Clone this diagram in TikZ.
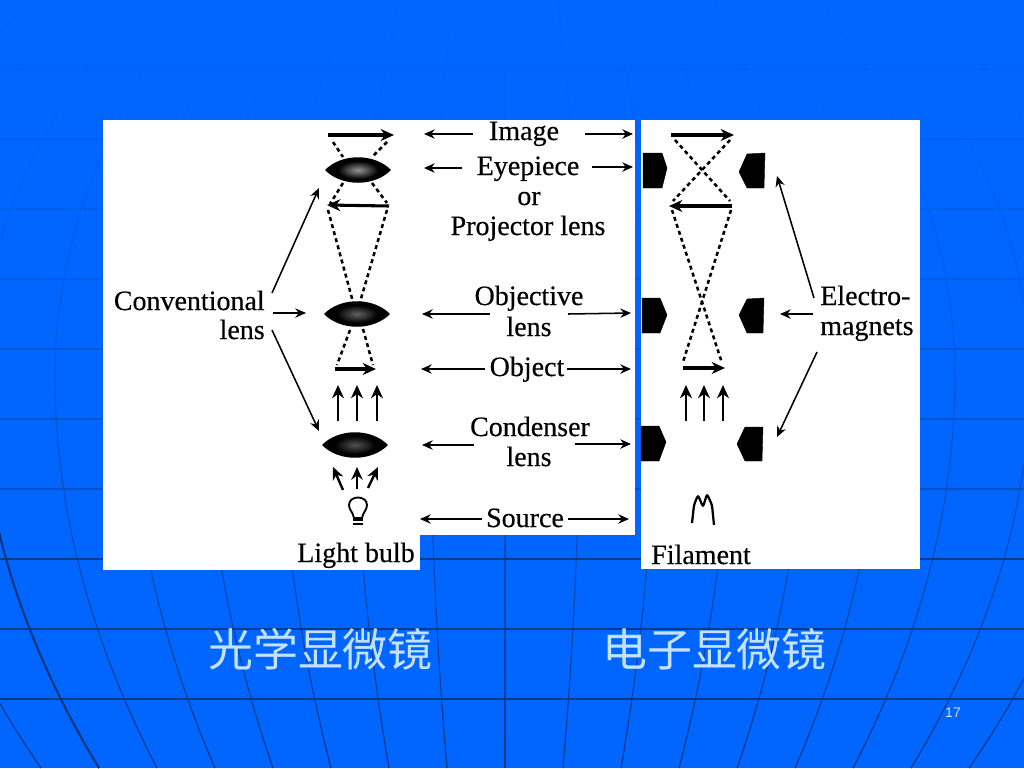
\documentclass[tikz,border=0pt]{standalone}
\usepackage{fontspec}
\setmainfont{Liberation Serif}[FakeBold=0.35]
\newfontfamily\cjkfont{Noto Sans CJK SC}
\newfontfamily\numfont{Liberation Sans}
\usetikzlibrary{arrows.meta}
\definecolor{bgblue}{HTML}{0066FF}
\definecolor{gridnavy}{HTML}{0A3478}
\definecolor{capcol}{HTML}{C4E2FF}
\tikzset{
  x=0.75pt,y=-0.75pt,
  lab/.style={inner sep=0pt,anchor=base,font=\fontsize{21}{21}\selectfont,text=black},
  lbl/.style={-{Stealth[length=8pt,width=7pt]},line width=1.15pt,black},
  rayarrow/.style={-{Stealth[length=10pt,width=9pt]},line width=3pt,black},
  ray2/.style={-{Stealth[length=10pt,width=9pt]},line width=2.3pt,black},
  beam/.style={-{Stealth[length=10pt,width=9pt]},line width=1.3pt,black},
  beamshort/.style={-{Stealth[length=9.5pt,width=8.5pt]},line width=1.8pt,black},
  dashray/.style={line width=1.9pt,black,dash pattern=on 3pt off 2.5pt},
  pole/.style={fill=black,draw=black,line width=.3pt},
  panel/.style={fill=white,draw=none},
}
\newcommand{\lensat}[4]{% cx cy halfw midcolour
  \fill[black] (#1-#3,#2) .. controls (#1-#3*.5,#2-17) and (#1+#3*.5,#2-17) .. (#1+#3,#2)
     .. controls (#1+#3*.5,#2+17) and (#1-#3*.5,#2+17) .. (#1-#3,#2) -- cycle;
  \shade[inner color=#4,outer color=black] (#1,#2) ellipse [x radius=#3*.62,y radius=9];
}
\begin{document}
\begin{tikzpicture}
\useasboundingbox (0,0) rectangle (1024,768);
\fill[bgblue] (0,0) rectangle (1024,768);
% globe grid, growing darker towards the bottom
\begin{scope}
\clip (0,0) rectangle (1024,768);
\foreach \b [evaluate=\b as \ya using \b*32, evaluate=\b as \yb using (\b+1)*32,
             evaluate=\b as \pc using int(6+\b*\b*0.13+\b*0.6)] in {0,...,23}{
  \colorlet{gridnow}{gridnavy!\pc!bgblue}
  \foreach \i in {-9,...,9}{
    \draw[gridnow,line width=.9pt] plot[domain=\ya:\yb,samples=5,smooth]
      ({505+\i*(75-(\x<375 ? 1.6 : 1.1)*((\x-375)/100)^2)},\x);
  }
}
\foreach \hy in {69,139,209,279,349,419,489}{
  \pgfmathtruncatemacro{\pc}{6+\hy/32*\hy/32*0.13+\hy/32*0.6}
  \colorlet{gridnow}{gridnavy!\pc!bgblue}
  \draw[gridnow,line width=1pt] (0,\hy) -- (1024,\hy);
}
\foreach \hy in {559,629,699}{
  \draw[gridnavy!85!bgblue,line width=1.1pt] (0,\hy) -- (1024,\hy);
}
\draw[gridnavy,line width=1.5pt] plot[domain=520:768,samples=12,smooth]
   ({505-7*(75-1.1*((\x-375)/100)^2)},\x);
\end{scope}
% white panels
\fill[panel] (103,120) rectangle (420,570);
\fill[panel] (420,120) rectangle (635,535);
\fill[panel] (641,120) rectangle (920,569);

% ---------- light microscope ----------
\lensat{358}{170}{33}{black!42}
\lensat{357}{314}{33}{black!62}
\lensat{355}{445}{33}{black!68}

\coordinate (LimgA) at (328,135); \coordinate (LimgB) at (394,135);
\coordinate (LmidA) at (389,206); \coordinate (LmidB) at (327,205);
\coordinate (LobjA) at (335,369); \coordinate (LobjB) at (376,369);
\draw[rayarrow] (LimgA) -- (LimgB);
\draw[ray2] (LmidA) -- (LmidB);
\draw[rayarrow] (LobjA) -- (LobjB);

\coordinate (d1) at (333,142); \coordinate (d2) at (343,157);
\coordinate (d3) at (387,142); \coordinate (d4) at (372,157);
\coordinate (d5) at (343,183); \coordinate (d6) at (330,204);
\coordinate (d7) at (372,183); \coordinate (d8) at (387,203);
\coordinate (d9) at (328,210); \coordinate (d10) at (353,302);
\coordinate (d11) at (387,210); \coordinate (d12) at (360,302);
\coordinate (d13) at (350,330); \coordinate (d14) at (337,365);
\coordinate (d15) at (363,329); \coordinate (d16) at (373,365);
\foreach \p/\q in {d1/d2,d3/d4,d5/d6,d7/d8,d9/d10,d11/d12,d13/d14,d15/d16}
  \draw[dashray] (\p) -- (\q);

\foreach \xx [count=\n] in {338,357,377}{
  \coordinate (ba\n) at (\xx,421); \coordinate (bb\n) at (\xx,385);
  \draw[beam] (ba\n) -- (bb\n);
}
\coordinate (sa1) at (343,490); \coordinate (sb1) at (333,467);
\coordinate (sa2) at (357,489); \coordinate (sb2) at (357,467);
\coordinate (sa3) at (368,488); \coordinate (sb3) at (378,467);
\foreach \n in {1,2,3} \draw[beamshort] (sa\n) -- (sb\n);

% bulb
\draw[black,line width=1.4pt] (354,518) .. controls (353,512) and (349,510) .. (349,505)
  .. controls (349,495) and (367,495) .. (367,505)
  .. controls (367,510) and (363,512) .. (362,518) -- cycle;
\fill[black] (353,519) rectangle (363,521);
\fill[black] (353,522.5) rectangle (363,525);

% labels
\node[lab,anchor=base east] (conv) at (265,310) {Conventional};
\node[lab,anchor=base east] (convlens) at (265,339) {lens};
\node[lab] (image) at (524,140) {Image};
\node[lab] (eyepiece) at (528,175) {Eyepiece};
\node[lab] (orw) at (529,205) {or};
\node[lab] (proj) at (528,235) {Projector lens};
\node[lab] (objective) at (529,305) {Objective};
\node[lab] (objlens) at (529,336) {lens};
\node[lab] (object) at (527,376) {Object};
\node[lab] (condenser) at (530,436) {Condenser};
\node[lab] (condlens) at (529,466) {lens};
\node[lab] (source) at (525,527) {Source};
\node[lab] (bulb) at (356,562) {Light bulb};

\coordinate (cA) at (272,293); \coordinate (cB) at (319,188);
\coordinate (cC) at (273,313); \coordinate (cD) at (306,313);
\coordinate (cE) at (272,330); \coordinate (cF) at (319,431);
\draw[lbl] (cA) -- (cB);
\draw[lbl] (cC) -- (cD);
\draw[lbl] (cE) -- (cF);

\foreach \n/\ax/\ay/\bx/\by in {
  1/473/134/424/134, 2/585/134/633/134,
  3/462/168/424/168, 4/592/167/633/167,
  5/490/314/422/314, 6/568/314/631/313,
  7/485/369/421/369, 8/567/369/631/369,
  9/474/445/422/445, 10/575/444/631/444,
  11/482/519/420/519, 12/568/519/629/519}{
  \coordinate (ma\n) at (\ax,\ay); \coordinate (mb\n) at (\bx,\by);
  \draw[lbl] (ma\n) -- (mb\n);
}

% ---------- electron microscope ----------
\coordinate (RimgA) at (671,135); \coordinate (RimgB) at (734,135);
\coordinate (RmidA) at (732,206); \coordinate (RmidB) at (669,206);
\coordinate (RobjA) at (683,368); \coordinate (RobjB) at (725,368);
\draw[ray2] (RimgA) -- (RimgB);
\draw[ray2] (RmidA) -- (RmidB);
\draw[rayarrow] (RobjA) -- (RobjB);

\coordinate (e1) at (675,140); \coordinate (e2) at (730,201);
\coordinate (e3) at (730,140); \coordinate (e4) at (673,201);
\coordinate (e5) at (672,210); \coordinate (e6) at (722,363);
\coordinate (e7) at (731,210); \coordinate (e8) at (683,362);
\foreach \p/\q in {e1/e2,e3/e4,e5/e6,e7/e8}
  \draw[dashray] (\p) -- (\q);

\foreach \xx [count=\n] in {686,704,723}{
  \coordinate (ra\n) at (\xx,421); \coordinate (rb\n) at (\xx,385);
  \draw[beam] (ra\n) -- (rb\n);
}

\fill[pole] (643,153) -- (662,153) -- (667,168) -- (662,188) -- (643,188) -- cycle;
\fill[pole] (765,153) -- (747,154) -- (739,172) -- (747,188) -- (764,188) -- cycle;
\fill[pole] (642,298) -- (660,298) -- (667,315) -- (660,333) -- (642,333) -- cycle;
\fill[pole] (764,298) -- (747,299) -- (739,315) -- (747,333) -- (763,333) -- cycle;
\fill[pole] (641,426) -- (659,426) -- (666,442) -- (659,461) -- (641,461) -- cycle;
\fill[pole] (763,427) -- (745,427) -- (737,444) -- (745,461) -- (762,461) -- cycle;

\coordinate (fil1) at (692,523);
\draw[black,line width=1.7pt,rounded corners=2pt] (fil1) -- (694,505) -- (698,495) -- (703,507) -- (707,494) -- (712,505) -- (714,525);

\node[lab,anchor=base west] (electro) at (820,305) {Electro-};
\node[lab,anchor=base west] (magnets) at (820,335) {magnets};
\node[lab] (filament) at (701,564) {Filament};

\coordinate (eA) at (814,298); \coordinate (eB) at (777,176);
\coordinate (eC) at (813,314); \coordinate (eD) at (780,314);
\coordinate (eE) at (817,352); \coordinate (eF) at (777,437);
\draw[lbl] (eA) -- (eB);
\draw[lbl] (eC) -- (eD);
\draw[lbl] (eE) -- (eF);

% ---------- captions ----------
\node[inner sep=0pt,text=capcol,font=\cjkfont\fontsize{33.7}{34}\selectfont] (capL) at (320.5,649) {光学显微镜};
\node[inner sep=0pt,text=capcol,font=\cjkfont\fontsize{33.7}{34}\selectfont] (capR) at (714.5,649) {电子显微镜};
\node[inner sep=0pt,text=capcol,font=\numfont\fontsize{10.5}{11}\selectfont] (pageno) at (953,713) {17};
\end{tikzpicture}
\end{document}
